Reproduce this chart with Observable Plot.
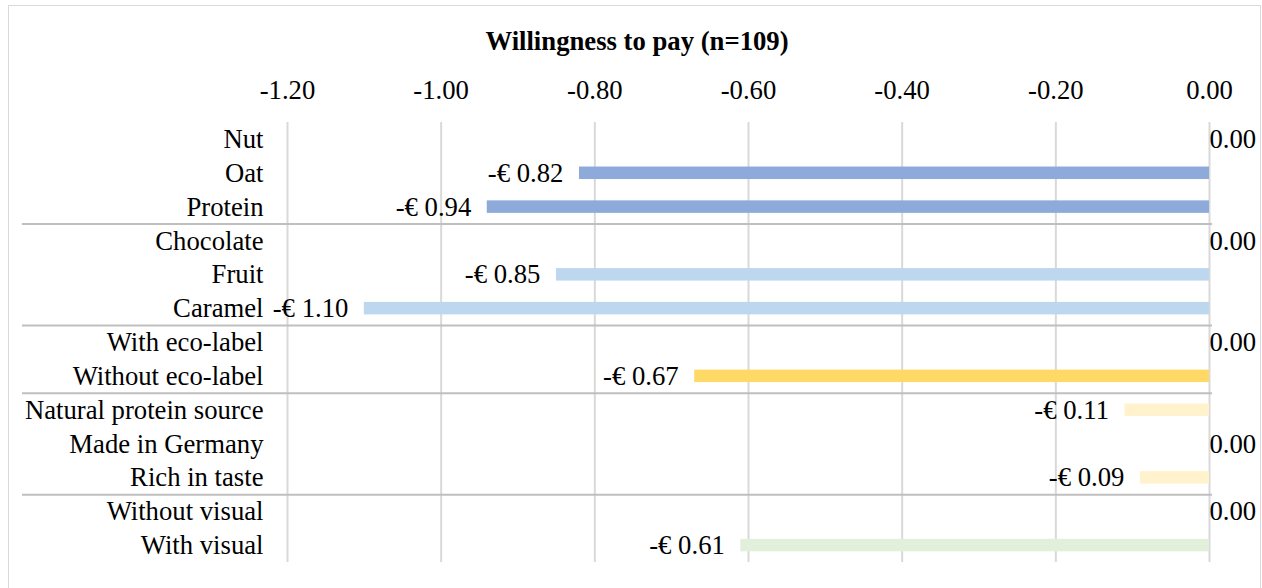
<!DOCTYPE html>
<html>
<head>
<meta charset="utf-8">
<script src="https://cdn.jsdelivr.net/npm/d3@7"></script>
<script src="https://cdn.jsdelivr.net/npm/@observablehq/plot@0.6"></script>
<style>
  body { margin: 0; background: #fff; }
  #wrap { position: relative; width: 1262px; height: 588px; overflow: hidden; font-family: "Liberation Serif", "Times New Roman", serif; }
  #frame { position: absolute; left: 8px; top: 5px; width: 1253px; height: 620px; border: 1.5px solid #d9d9d9; box-sizing: border-box; }
  #title { position: absolute; left: 0; top: 28px; width: 1274px; text-align: center; font-weight: bold; font-size: 26.7px; line-height: 1; color: #000; }
  #chart { position: absolute; left: 0; top: 0; }
  #chart svg, #chart svg text { font-family: "Liberation Serif", "Times New Roman", serif !important; }
</style>
</head>
<body>
<div id="wrap">
  <div id="frame"></div>
  <div id="title">Willingness to pay (n=109)</div>
  <div id="chart"></div>
</div>
<script>
// ---- data ----
const categories = [
  "Nut", "Oat", "Protein",
  "Chocolate", "Fruit", "Caramel",
  "With eco-label", "Without eco-label",
  "Natural protein source", "Made in Germany", "Rich in taste",
  "Without visual", "With visual"
];
const values = [0, -0.82, -0.94, 0, -0.85, -1.10, 0, -0.67, -0.11, 0, -0.09, 0, -0.61];
const groups = [
  "Base", "Base", "Base",
  "Flavour", "Flavour", "Flavour",
  "Eco-label", "Eco-label",
  "Claim", "Claim", "Claim",
  "Visual", "Visual"
];
const groupNames = ["Base", "Flavour", "Eco-label", "Claim", "Visual"];
const groupColors = ["#8eaadb", "#bdd7ee", "#ffd966", "#fff2cc", "#e2efda"];
const groupStarts = ["Chocolate", "With eco-label", "Natural protein source", "Without visual"];
const xTicks = [-1.2, -1.0, -0.8, -0.6, -0.4, -0.2, 0];

// ---- chart ----
const data = categories.map((c, i) => ({category: c, value: values[i], group: groups[i]}));
const FS = 26.7;
const FONT = '"Liberation Serif", "Times New Roman", serif';
const W = 1262, H = 588, mL = 287, mR = 53, mT = 122, mB = 26;
const bw = (H - mT - mB) / categories.length;
const barH = 12.5;
const fmtTick = d => d.toFixed(2);
const fmtVal = v => v === 0 ? "0.00" : "-€ " + Math.abs(v).toFixed(2);
const txt = {fontSize: FS, fontFamily: FONT, fill: "#000"};

const chart = Plot.plot({
  width: W, height: H,
  marginLeft: mL, marginRight: mR, marginTop: mT, marginBottom: mB,
  style: {fontFamily: FONT, fontSize: FS + "px", background: "transparent", color: "#000"},
  x: {domain: [-1.2, 0]},
  y: {domain: categories, padding: 0, round: false},
  color: {domain: groupNames, range: groupColors},
  marks: [
    Plot.ruleX(xTicks, {stroke: "#d9d9d9", strokeWidth: 2}),
    Plot.ruleY(groupStarts, {y: d => d, dy: -bw / 2, insetLeft: -(mL - 22), insetRight: -3, stroke: "#bfbfbf", strokeWidth: 2}),
    Plot.barX(data, {y: "category", x1: "value", x2: 0, fill: "group", insetTop: (bw - barH) / 2, insetBottom: (bw - barH) / 2}),
    Plot.text(data.filter(d => d.value < 0), {x: "value", y: "category", text: d => fmtVal(d.value), textAnchor: "end", dx: -16, ...txt}),
    Plot.text(data.filter(d => d.value === 0), {x: "value", y: "category", text: d => fmtVal(d.value), textAnchor: "start", ...txt}),
    Plot.axisX({anchor: "top", ticks: xTicks, tickFormat: fmtTick, tickSize: 0, tickPadding: 24, ...txt, label: null}),
    Plot.axisY({anchor: "left", tickSize: 0, tickPadding: 24, ...txt, label: null})
  ]
});
document.getElementById("chart").appendChild(chart);
</script>
</body>
</html>
